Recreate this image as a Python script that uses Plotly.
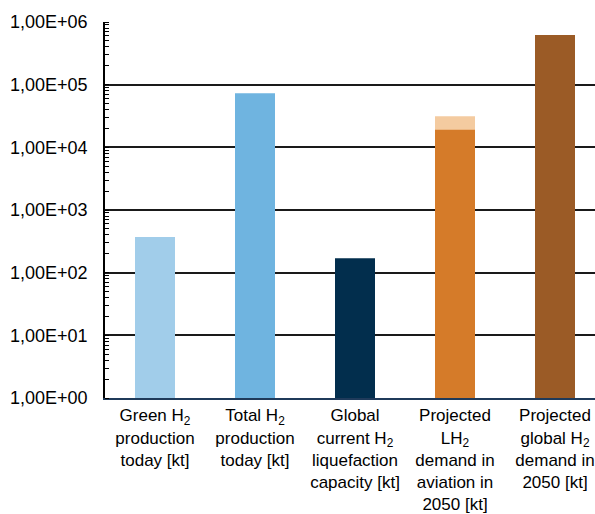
import plotly.graph_objects as go

# Hydrogen quantities in kilotonnes (log scale)
categories = [
    "Green H<sub>2</sub><br>production<br>today [kt]",
    "Total H<sub>2</sub><br>production<br>today [kt]",
    "Global<br>current H<sub>2</sub><br>liquefaction<br>capacity [kt]",
    "Projected<br>LH<sub>2</sub><br>demand in<br>aviation in<br>2050 [kt]",
    "Projected<br>global H<sub>2</sub><br>demand in<br>2050 [kt]",
]
values = [370, 73000, 170, 19100, 620000]
bar_colors = ["#A1CDEA", "#6FB4E0", "#022E4D", "#D57B29", "#9B5B26"]

# Upper estimate for aviation LH2 demand, shown as a lighter cap
upper_category = [categories[3]]
upper_value = [31200]
upper_color = "#F4CBA0"

tick_vals = [1, 10, 100, 1000, 10000, 100000, 1000000]
tick_text = ["1,00E+00", "1,00E+01", "1,00E+02", "1,00E+03",
             "1,00E+04", "1,00E+05", "1,00E+06"]

fig = go.Figure()
fig.add_trace(go.Bar(x=upper_category, y=upper_value,
                     marker=dict(color=upper_color, line=dict(width=0)),
                     showlegend=False, hoverinfo="skip"))
fig.add_trace(go.Bar(x=categories, y=values,
                     marker=dict(color=bar_colors, line=dict(width=0)),
                     showlegend=False))

font_family = "Liberation Sans, Arial, sans-serif"

fig.update_layout(
    template="none",
    width=595, height=514,
    margin=dict(l=105, r=0, t=22, b=116, pad=0),
    paper_bgcolor="white", plot_bgcolor="white",
    barmode="overlay",
    bargap=0.6,
    font=dict(family=font_family, color="#000000"),
    xaxis=dict(
        type="category",
        categoryorder="array", categoryarray=categories,
        range=[-0.5, 4.4],
        showgrid=False, zeroline=False,
        showline=True, linecolor="#1F3A5A", linewidth=2,
        ticks="", tickfont=dict(size=17, family=font_family, color="#000000"),
        ticklabelstandoff=1,
        automargin=False,
        tickangle=0,
    ),
    yaxis=dict(
        type="log",
        range=[0, 6],
        tickvals=tick_vals, ticktext=tick_text,
        tickfont=dict(size=18, family=font_family, color="#000000"),
        ticks="", ticklabelstandoff=12,
        showgrid=True, gridcolor="#1a1a1a", gridwidth=2,
        showline=True, linecolor="#000000", linewidth=1.5,
        zeroline=False,
        minor=dict(ticks="inside", ticklen=4, tickcolor="#000000",
                   tickwidth=1, dtick="D1", showgrid=False),
        automargin=False,
    ),
)

fig.write_html("out.html")
